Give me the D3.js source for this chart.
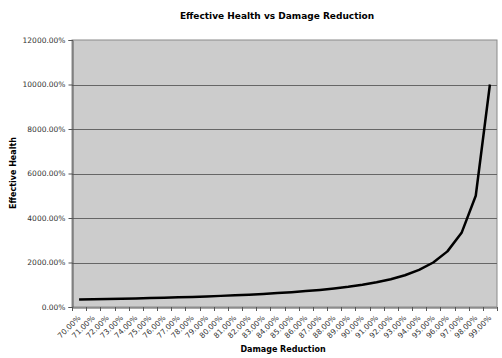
<!DOCTYPE html>
<html><head><meta charset="utf-8">
<script src="https://cdn.jsdelivr.net/npm/d3@7"></script>
<style>body{margin:0;background:#fff;}svg{display:block;}</style>
</head><body>
<svg id="c" width="502" height="358"></svg>
<script>
const categories = ["70.00%","71.00%","72.00%","73.00%","74.00%","75.00%","76.00%","77.00%","78.00%","79.00%","80.00%","81.00%","82.00%","83.00%","84.00%","85.00%","86.00%","87.00%","88.00%","89.00%","90.00%","91.00%","92.00%","93.00%","94.00%","95.00%","96.00%","97.00%","98.00%","99.00%"];
const effectiveHealth = [333.33,344.83,357.14,370.37,384.62,400.00,416.67,434.78,454.55,476.19,500.00,526.32,555.56,588.24,625.00,666.67,714.29,769.23,833.33,909.09,1000.00,1111.11,1250.00,1428.57,1666.67,2000.00,2500.00,3333.33,5000.00,10000.00];
const yTicks = [0,2000,4000,6000,8000,10000,12000];

const svg = d3.select("#c");
const L = 72, R = 497, T = 40, B = 307;
const font = "DejaVu Sans, Verdana, sans-serif";

const x = d3.scaleBand().domain(categories).range([L, R]).padding(0);
const y = d3.scaleLinear().domain([0, 12000]).range([B, T]);

svg.append("rect").attr("x", L).attr("y", T).attr("width", R - L).attr("height", B - T)
  .attr("fill", "#cccccc").attr("stroke", "#8a8a8a").attr("stroke-width", 1);

// gridlines
svg.append("g").selectAll("line").data(yTicks.filter(d => d > 0 && d < 12000)).join("line")
  .attr("x1", L).attr("x2", R).attr("y1", d => Math.round(y(d)) + 0.5).attr("y2", d => Math.round(y(d)) + 0.5)
  .attr("stroke", "#666").attr("stroke-width", 1);

// y axis
const yAxis = svg.append("g").attr("transform", `translate(${L + 0.5},0)`)
  .call(d3.axisLeft(y).tickValues(yTicks).tickSize(4).tickFormat(d => d3.format(".2f")(d) + "%"));
yAxis.select(".domain").attr("stroke", "#555");
yAxis.selectAll(".tick line").attr("stroke", "#555");
yAxis.selectAll("text").attr("font-family", font).attr("font-size", 7.5).attr("fill", "#333").attr("x", -7);

// x axis
const xAxis = svg.append("g").attr("transform", `translate(0,${B + 0.5})`)
  .call(d3.axisBottom(x).tickSize(0).tickFormat(d => d));
xAxis.select(".domain").attr("stroke", "#555");
xAxis.selectAll(".tick line").remove();
xAxis.selectAll("text").attr("font-family", font).attr("font-size", 7.5).attr("fill", "#333")
  .attr("text-anchor", "end").attr("dy", 0).attr("y", 0)
  .attr("transform", "translate(2,11) rotate(-45)");
// boundary tick marks
svg.append("g").selectAll("line").data(categories.concat(["end"])).join("line")
  .attr("x1", (d, i) => Math.round(i < categories.length ? x(d) : R) + 0.5)
  .attr("x2", (d, i) => Math.round(i < categories.length ? x(d) : R) + 0.5)
  .attr("y1", B).attr("y2", B + 4).attr("stroke", "#555");

// line
const line = d3.line().x((d, i) => x(categories[i]) + x.bandwidth() / 2).y(d => y(d));
svg.append("path").datum(effectiveHealth).attr("d", line)
  .attr("fill", "none").attr("stroke", "#000").attr("stroke-width", 2.5).attr("stroke-linejoin", "round");

// titles
svg.append("text").attr("x", 277).attr("y", 19).attr("text-anchor", "middle")
  .attr("font-family", font).attr("font-weight", "bold").attr("font-size", 9).text("Effective Health vs Damage Reduction");
svg.append("text").attr("x", 283).attr("y", 352).attr("text-anchor", "middle")
  .attr("font-family", font).attr("font-weight", "bold").attr("font-size", 8).text("Damage Reduction");
svg.append("text").attr("transform", "translate(16,173) rotate(-90)").attr("text-anchor", "middle")
  .attr("font-family", font).attr("font-weight", "bold").attr("font-size", 8).text("Effective Health");
</script>
</body></html>
